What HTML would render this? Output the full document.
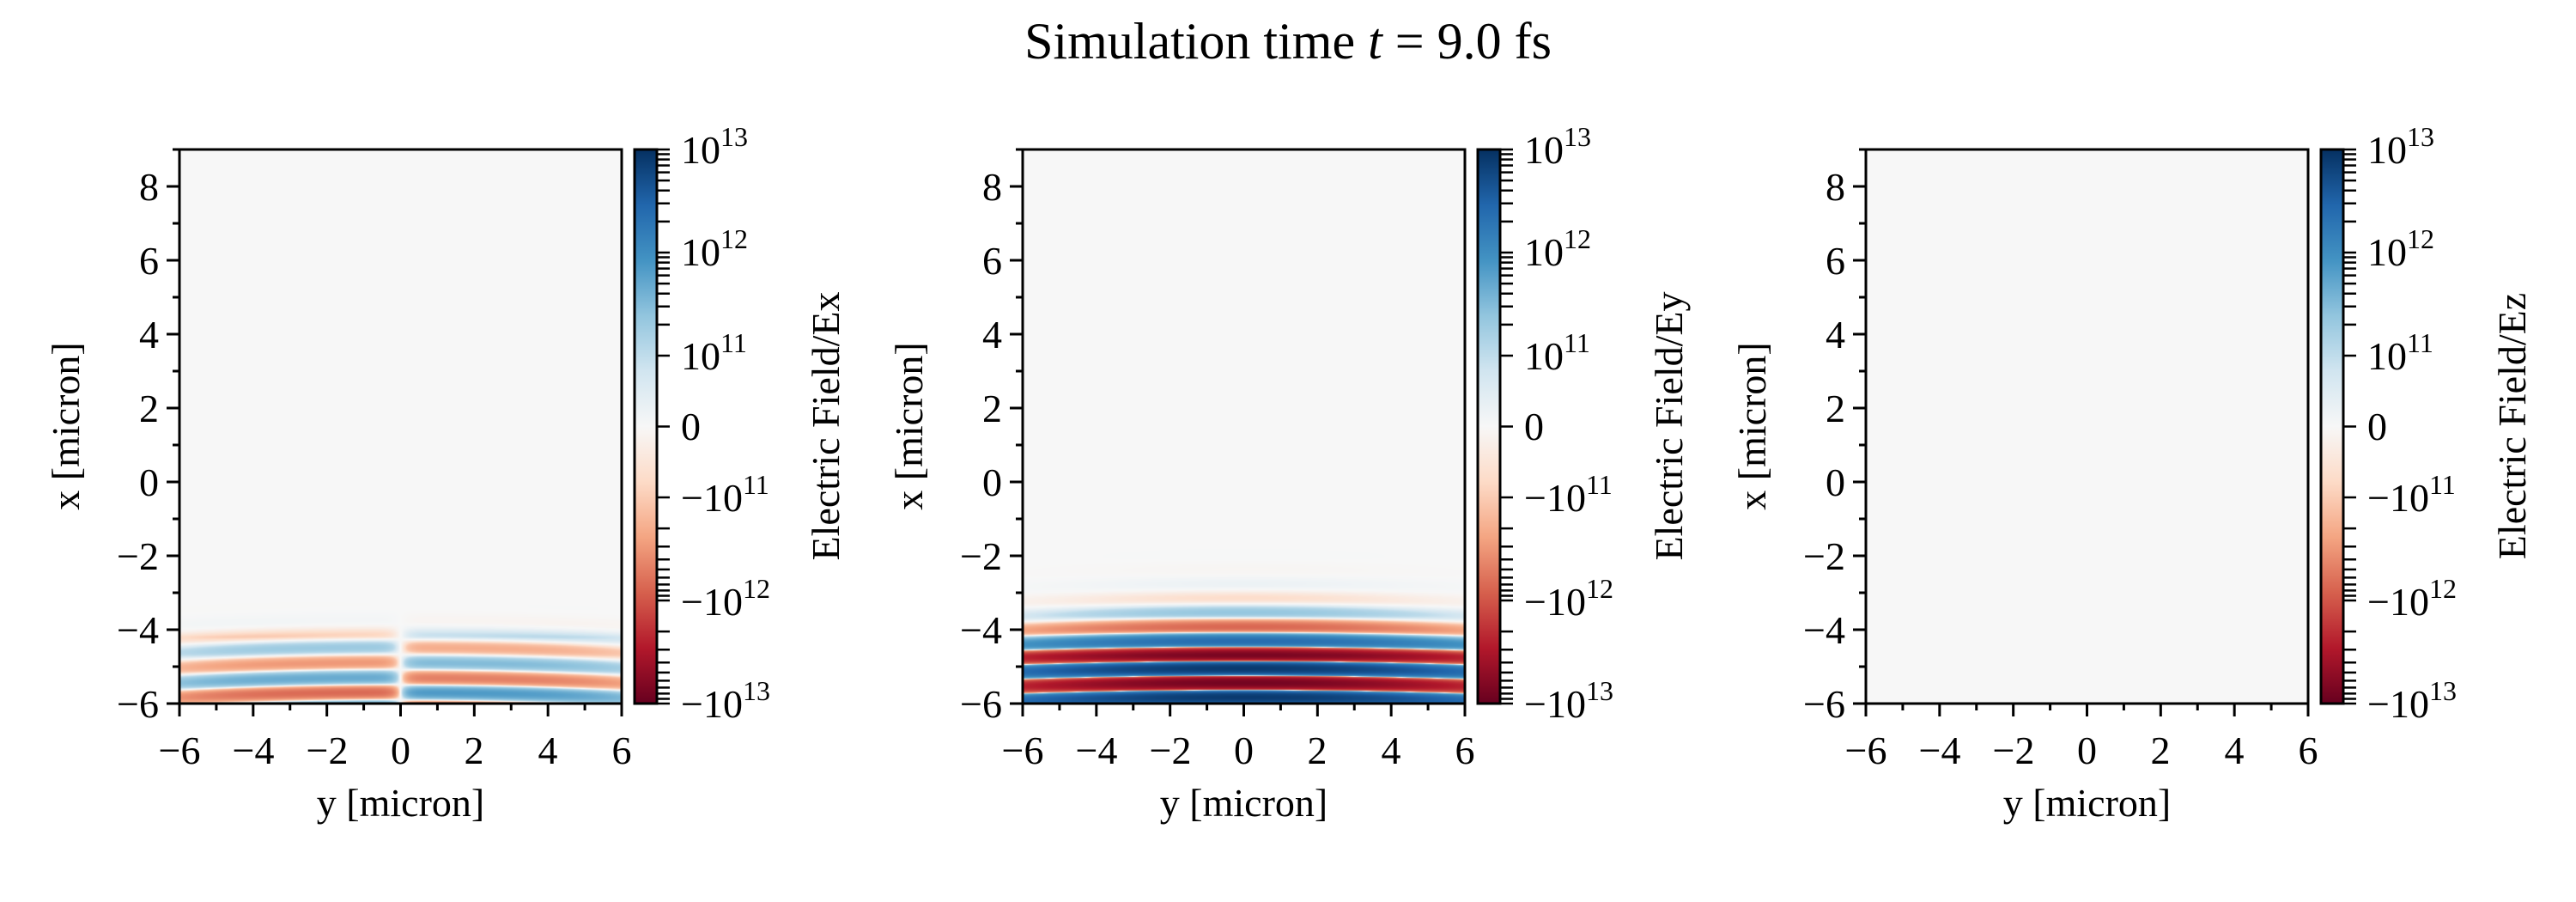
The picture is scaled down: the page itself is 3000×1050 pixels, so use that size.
<!DOCTYPE html>
<html><head><meta charset="utf-8">
<style>
html,body{margin:0;padding:0;background:#fff;}
#wrap{position:relative;width:3000px;height:1050px;overflow:hidden;background:#fff;}
canvas{position:absolute;top:174px;}
svg{position:absolute;left:0;top:0;}
text{font-family:"Liberation Serif","DejaVu Serif",serif;fill:#000;}
</style></head><body>
<div id="wrap">
<canvas id="c0" width="515" height="645" style="left:209px"></canvas>
<canvas id="c1" width="515" height="645" style="left:1191px"></canvas>
<canvas id="c2" width="515" height="645" style="left:2173px"></canvas>
<svg id="s" width="3000" height="1050" viewBox="0 0 3000 1050">
<defs>
<linearGradient id="cb" x1="0" y1="1" x2="0" y2="0">
<stop offset="0" stop-color="#67001f"/><stop offset="0.1" stop-color="#b2182b"/>
<stop offset="0.2" stop-color="#d6604d"/><stop offset="0.3" stop-color="#f4a582"/>
<stop offset="0.4" stop-color="#fddbc7"/><stop offset="0.5" stop-color="#f7f7f7"/>
<stop offset="0.6" stop-color="#d1e5f0"/><stop offset="0.7" stop-color="#92c5de"/>
<stop offset="0.8" stop-color="#4393c3"/><stop offset="0.9" stop-color="#2166ac"/>
<stop offset="1" stop-color="#053061"/>
</linearGradient>
</defs>
<text x="1500" y="68" font-size="60" text-anchor="middle">Simulation time <tspan font-style="italic">t</tspan> = 9.0 fs</text>
<g id="ticks"></g>

<!-- Panel 1 -->
<g transform="translate(209,0)" font-size="46">
<g text-anchor="end">
<text x="-24" y="835">−6</text><text x="-24" y="749">−4</text><text x="-24" y="663">−2</text>
<text x="-24" y="577">0</text><text x="-24" y="491">2</text><text x="-24" y="405">4</text>
<text x="-24" y="319">6</text><text x="-24" y="233">8</text></g>
<g text-anchor="middle">
<text x="0" y="889">−6</text><text x="86" y="889">−4</text><text x="172" y="889">−2</text>
<text x="257.5" y="889">0</text><text x="343" y="889">2</text><text x="429" y="889">4</text><text x="515" y="889">6</text>
<text x="257.5" y="950">y [micron]</text>
<text transform="translate(-117,496) rotate(-90)">x [micron]</text>
<text transform="translate(768,496) rotate(-90)">Electric Field/Ex</text></g>
<g>
<text x="584" y="190">10<tspan font-size="32" dy="-20">13</tspan></text>
<text x="584" y="309">10<tspan font-size="32" dy="-20">12</tspan></text>
<text x="584" y="430">10<tspan font-size="32" dy="-20">11</tspan></text>
<text x="584" y="512">0</text>
<text x="584" y="595">−10<tspan font-size="32" dy="-20">11</tspan></text>
<text x="584" y="716">−10<tspan font-size="32" dy="-20">12</tspan></text>
<text x="584" y="835">−10<tspan font-size="32" dy="-20">13</tspan></text></g>
</g>

<!-- Panel 2 -->
<g transform="translate(1191,0)" font-size="46">
<g text-anchor="end">
<text x="-24" y="835">−6</text><text x="-24" y="749">−4</text><text x="-24" y="663">−2</text>
<text x="-24" y="577">0</text><text x="-24" y="491">2</text><text x="-24" y="405">4</text>
<text x="-24" y="319">6</text><text x="-24" y="233">8</text></g>
<g text-anchor="middle">
<text x="0" y="889">−6</text><text x="86" y="889">−4</text><text x="172" y="889">−2</text>
<text x="257.5" y="889">0</text><text x="343" y="889">2</text><text x="429" y="889">4</text><text x="515" y="889">6</text>
<text x="257.5" y="950">y [micron]</text>
<text transform="translate(-117,496) rotate(-90)">x [micron]</text>
<text transform="translate(768,496) rotate(-90)">Electric Field/Ey</text></g>
<g>
<text x="584" y="190">10<tspan font-size="32" dy="-20">13</tspan></text>
<text x="584" y="309">10<tspan font-size="32" dy="-20">12</tspan></text>
<text x="584" y="430">10<tspan font-size="32" dy="-20">11</tspan></text>
<text x="584" y="512">0</text>
<text x="584" y="595">−10<tspan font-size="32" dy="-20">11</tspan></text>
<text x="584" y="716">−10<tspan font-size="32" dy="-20">12</tspan></text>
<text x="584" y="835">−10<tspan font-size="32" dy="-20">13</tspan></text></g>
</g>

<!-- Panel 3 -->
<g transform="translate(2173,0)" font-size="46">
<g text-anchor="end">
<text x="-24" y="835">−6</text><text x="-24" y="749">−4</text><text x="-24" y="663">−2</text>
<text x="-24" y="577">0</text><text x="-24" y="491">2</text><text x="-24" y="405">4</text>
<text x="-24" y="319">6</text><text x="-24" y="233">8</text></g>
<g text-anchor="middle">
<text x="0" y="889">−6</text><text x="86" y="889">−4</text><text x="172" y="889">−2</text>
<text x="257.5" y="889">0</text><text x="343" y="889">2</text><text x="429" y="889">4</text><text x="515" y="889">6</text>
<text x="257.5" y="950">y [micron]</text>
<text transform="translate(-117,496) rotate(-90)">x [micron]</text>
<text transform="translate(768,496) rotate(-90)">Electric Field/Ez</text></g>
<g>
<text x="584" y="190">10<tspan font-size="32" dy="-20">13</tspan></text>
<text x="584" y="309">10<tspan font-size="32" dy="-20">12</tspan></text>
<text x="584" y="430">10<tspan font-size="32" dy="-20">11</tspan></text>
<text x="584" y="512">0</text>
<text x="584" y="595">−10<tspan font-size="32" dy="-20">11</tspan></text>
<text x="584" y="716">−10<tspan font-size="32" dy="-20">12</tspan></text>
<text x="584" y="835">−10<tspan font-size="32" dy="-20">13</tspan></text></g>
</g>
</svg>
</div>
<script>
(function(){
var stops=["#67001f","#b2182b","#d6604d","#f4a582","#fddbc7","#f7f7f7","#d1e5f0","#92c5de","#4393c3","#2166ac","#053061"].map(function(h){return [parseInt(h.substr(1,2),16),parseInt(h.substr(3,2),16),parseInt(h.substr(5,2),16)];});
function cmap(t){if(t<0)t=0;if(t>1)t=1;var f=t*10,i=Math.floor(f);if(i>=10)i=9;var r=f-i,a=stops[i],b=stops[i+1];return [a[0]+(b[0]-a[0])*r,a[1]+(b[1]-a[1])*r,a[2]+(b[2]-a[2])*r];}
function norm(v){var a=Math.abs(v),s;if(a<1e11)s=a/1e11*82.5;else s=82.5+120*Math.log10(a/1e11);if(s>322.5)s=322.5;var p=(v<0?-1:1)*s/322.5;return (p+1)/2;}
var W=515,H=645;
function paint(id,fn){var c=document.getElementById(id),ctx=c.getContext('2d'),img=ctx.createImageData(W,H),d=img.data;
for(var j=0;j<H;j++){var x=9-(j+0.5)/H*15;for(var i=0;i<W;i++){var y=-6+(i+0.5)/W*12;var col=cmap(norm(fn(x,y)));var k=(j*W+i)*4;d[k]=col[0];d[k+1]=col[1];d[k+2]=col[2];d[k+3]=255;}}
ctx.putImageData(img,0,0);}
var k1=2*Math.PI/0.78,k2=2*Math.PI/0.82;
paint('c1',function(x,y){var dx=Math.max(0,x+4.7);var la=12.9-1.3*dx;var wy=5.5-0.5*dx;var a=Math.pow(10,la)*Math.exp(-Math.pow(y/wy,2));return a*Math.cos(k1*(x+5.05+0.0025*y*y));});
paint('c0',function(x,y){var lb=11.85-0.45*Math.max(0,x+5.7)-2*Math.max(0,x+4.2);var b=Math.pow(10,lb)*Math.tanh(Math.abs(y)/0.3)*Math.exp(-Math.pow(y/6.5,4));var off=y<0?4.87:4.47;return -b*Math.cos(k2*(x+off+0.004*y*y));});
paint('c2',function(){return 0;});
var ns="http://www.w3.org/2000/svg",g=document.getElementById('ticks');
function ln(x1,y1,x2,y2,w){var e=document.createElementNS(ns,'line');e.setAttribute('x1',x1);e.setAttribute('y1',y1);e.setAttribute('x2',x2);e.setAttribute('y2',y2);e.setAttribute('stroke','#000');e.setAttribute('stroke-width',w||3);g.appendChild(e);}
function rc(x,y,w,h,f){var e=document.createElementNS(ns,'rect');e.setAttribute('x',x);e.setAttribute('y',y);e.setAttribute('width',w);e.setAttribute('height',h);e.setAttribute('fill',f);e.setAttribute('stroke','#000');e.setAttribute('stroke-width',3);g.appendChild(e);}
[209,1191,2173].forEach(function(L){
rc(L,174,515,645,'none');
for(var v=-6;v<=6;v++){var px=L+(v+6)*515/12;ln(px,819,px,819+(v%2===0?15:8));}
for(var v=-6;v<=9;v++){var py=819-(v+6)*43;ln(L,py,L-(v%2===0?15:8),py);}
var CL=L+530;rc(CL,174,26,645,'url(#cb)');
function cpos(v){var a=Math.abs(v),s;if(a<1e11)s=a/1e11*82.5;else s=82.5+120*Math.log10(a/1e11);return 496.5-(v<0?-1:1)*s;}
var vals=[0];for(var n=11;n<=12;n++){for(var m=1;m<=9;m++){vals.push(m*Math.pow(10,n));vals.push(-m*Math.pow(10,n));}}vals.push(1e13);vals.push(-1e13);
vals.forEach(function(v){var y=cpos(v);ln(CL+26,y,CL+41,y,2.5);});
});
})();
</script>
</body></html>
